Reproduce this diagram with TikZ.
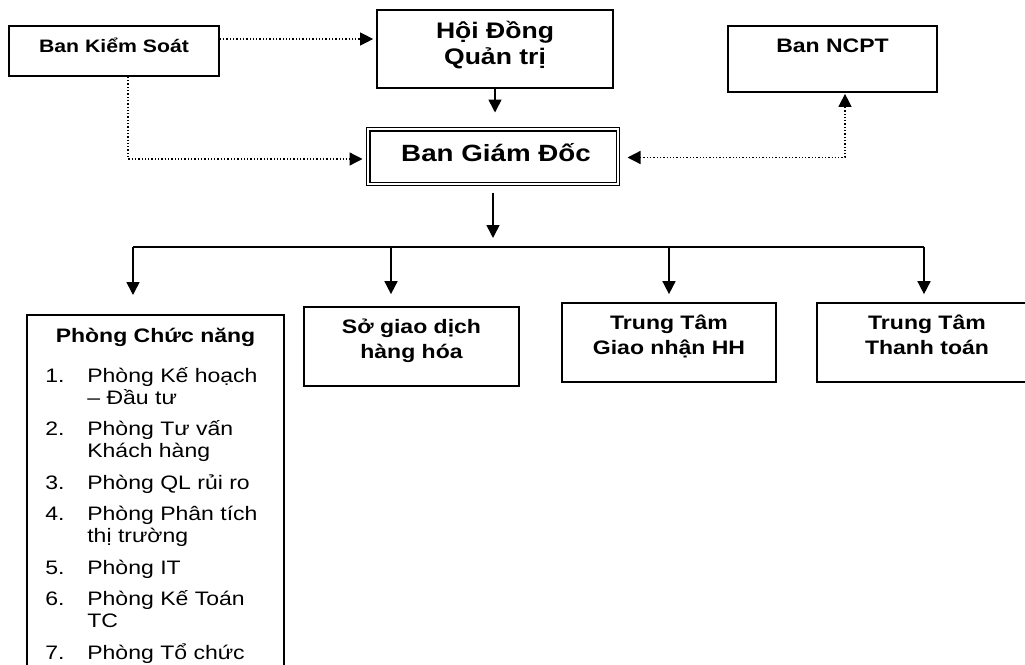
\documentclass[tikz,border=0pt]{standalone}
\usepackage{fontspec}
\setmainfont[FakeStretch=1.18]{Liberation Sans}
\usetikzlibrary{positioning,arrows.meta}

\begin{document}
\begin{tikzpicture}[x=1pt,y=-1pt,>={Triangle[length=13pt,width=13pt]},
    box/.style={draw,line width=1.7pt,inner sep=0pt},
    dblbox/.style={draw,line width=1.4pt,double,double distance=1.8pt,inner sep=0pt},
    head/.style={font=\bfseries\fontsize{19.5}{25}\selectfont,align=center,inner sep=0pt},
    big/.style={font=\bfseries\fontsize{22.5}{26}\selectfont,align=center,inner sep=0pt},
    solidarrow/.style={->,line width=1.6pt},
    dotarrow/.style={->,line width=1.3pt,dotted}]
        \useasboundingbox (0,0) rectangle (1025,664);
        % top level
        \node[box,minimum width=210pt,minimum height=50pt,label={[head,font=\bfseries\fontsize{18}{25}\selectfont,anchor=north,yshift=-13pt]north:Ban Kiểm Soát}] (ks) at (114,51) {};
        \node[box,minimum width=236pt,minimum height=78pt,label={[big,anchor=north,yshift=-11.5pt]north:Hội Đồng\\Quản trị}] (hdqt) at (495,49) {};
        \node[box,minimum width=209pt,minimum height=66pt,label={[head,anchor=north,yshift=-14pt]north:Ban NCPT}] (ncpt) at (832.5,59) {};
        \node[dblbox,minimum width=249.6pt,minimum height=54.6pt,label={[big,font=\bfseries\fontsize{23.5}{26}\selectfont,anchor=north,xshift=3pt,yshift=-15pt]north:Ban Giám Đốc}] (bgd) at (493,156.5) {};
        % departments
        \node[box,minimum width=257pt,minimum height=420pt,anchor=north,label={[head,anchor=north,yshift=-14pt]north:Phòng Chức năng}] (pcn) at (155.5,314) {};
        \node[box,minimum width=215pt,minimum height=79pt,label={[head,anchor=north,yshift=-13pt]north:Sở giao dịch\\hàng hóa}] (sgd) at (411.5,346.5) {};
        \node[box,minimum width=214pt,minimum height=79pt,label={[head,anchor=north,yshift=-13pt]north:Trung Tâm\\Giao nhận HH}] (gnhh) at (669,342.5) {};
        \node[box,minimum width=220pt,minimum height=79pt,label={[head,anchor=north,yshift=-13pt]north:Trung Tâm\\Thanh toán}] (tttt) at (927,342.5) {};
        \node[anchor=north west,inner sep=0pt,font=\fontsize{19.5}{22}\selectfont] (plist) at ([xshift=19pt,yshift=-52.6pt]pcn.north west) {%
            \begin{tabular}{@{}p{42pt}@{}l@{}}
            1. & Phòng Kế hoạch\\
               & – Đầu tư\\[9.5pt]
            2. & Phòng Tư vấn\\
               & Khách hàng\\[9.5pt]
            3. & Phòng QL rủi ro\\[9.5pt]
            4. & Phòng Phân tích\\
               & thị trường\\[9.5pt]
            5. & Phòng IT\\[9.5pt]
            6. & Phòng Kế Toán\\
               & TC\\[9.5pt]
            7. & Phòng Tổ chức
            \end{tabular}};
        % dotted links
        \draw[dotarrow,shorten >=3pt] ([yshift=12pt]ks.east) -- ([yshift=12pt]ks.east -| hdqt.west);
        \draw[dotarrow,shorten >=5pt] ([xshift=14pt]ks.south) |- ([yshift=-2.5pt]bgd.west);
        \draw[dotarrow,<->,shorten <=9pt,shorten >=1pt] ([yshift=-1pt]bgd.east) -| ([xshift=12.5pt]ncpt.south);
        % solid links
        \draw[solidarrow,shorten >=16pt] (hdqt.south) -- (hdqt.south |- bgd.north);
        \coordinate (bus) at (493,247);
        \coordinate (j1) at (133,247);
        \coordinate (j2) at (391,247);
        \coordinate (j3) at (669,247);
        \coordinate (j4) at (924,247);
        \draw[solidarrow,shorten <=8pt,shorten >=9pt] (bgd.south) -- (bus);
        \draw[line width=1.6pt] (j1) -- (j4);
        \draw[solidarrow,shorten >=19pt] (j1) -- (j1 |- pcn.north);
        \draw[solidarrow,shorten >=12pt] (j2) -- (j2 |- sgd.north);
        \draw[solidarrow,shorten >=8pt] (j3) -- (j3 |- gnhh.north);
        \draw[solidarrow,shorten >=8pt] (j4) -- (j4 |- tttt.north);
\end{tikzpicture}
\end{document}
